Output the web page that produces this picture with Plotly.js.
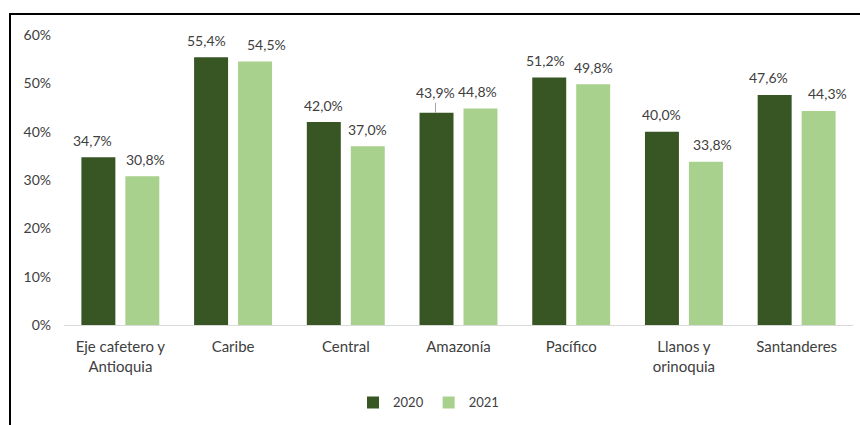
<!DOCTYPE html>
<html><head><meta charset="utf-8">
<script src="https://cdn.plot.ly/plotly-3.0.1.min.js"></script>
<style>
body{margin:0;background:#fff;}
#frame{position:absolute;left:9px;top:13px;width:860px;height:420px;border-top:2px solid #000;border-left:2px solid #000;}
#chart{position:absolute;left:0;top:0;width:860px;height:425px;}
</style></head>
<body>
<div id="frame"></div>
<div id="chart"></div>
<script>
const categories = ["Eje cafetero y<br>Antioquia", "Caribe", "Central", "Amazonía", "Pacífico", "Llanos y<br>orinoquia", "Santanderes"];
const values2020 = [0.347, 0.554, 0.420, 0.439, 0.512, 0.400, 0.476];
const values2021 = [0.308, 0.545, 0.370, 0.448, 0.498, 0.338, 0.443];
const seriesNames = ["2020", "2021"];
const yTicks = [0, 0.1, 0.2, 0.3, 0.4, 0.5, 0.6];

const dark = "#375623", light = "#A9D18E";
const fmt = v => (v*100).toFixed(1).replace(".", ",") + "%";
const fontFam = "Lato, 'Open Sans', sans-serif";

const shift2020 = [-6, -5, 0, -1, -4, 0, -6];
const shift2021 = [3, 11, 0, -3, 0, 7, 9];

const annotations = [];
categories.forEach((c, i) => {
  const lead = (i === 3);
  annotations.push({
    x: c, y: values2020[i], xref: "x", yref: "y",
    text: fmt(values2020[i]), showarrow: lead,
    ax: 0, ay: -20, arrowhead: 0, arrowwidth: 1, arrowcolor: "#a6a6a6", standoff: 0,
    xshift: -22 + shift2020[i], yshift: lead ? 0 : 17, yanchor: "middle",
    font: {family: fontFam, size: 14, color: "#404040"}
  });
  annotations.push({
    x: c, y: values2021[i], xref: "x", yref: "y",
    text: fmt(values2021[i]), showarrow: false,
    xshift: 22 + shift2021[i], yshift: 17, yanchor: "middle",
    font: {family: fontFam, size: 14, color: "#404040"}
  });
});

const data = [
  {type: "bar", x: categories, y: values2020, name: seriesNames[0], marker: {color: dark}, hoverinfo: "none"},
  {type: "bar", x: categories, y: values2021, name: seriesNames[1], marker: {color: light}, hoverinfo: "none"}
];

const layout = {
  width: 860, height: 425,
  margin: {l: 64, r: 7, t: 35, b: 97},
  paper_bgcolor: "rgba(0,0,0,0)", plot_bgcolor: "rgba(0,0,0,0)",
  barmode: "group", bargap: 0.22, bargroupgap: 0.227,
  font: {family: fontFam, size: 14, color: "#404040"},
  xaxis: {type: "category", showline: true, linecolor: "#d9d9d9", linewidth: 1,
          ticks: "", ticklabelstandoff: 8, tickfont: {family: fontFam, size: 15, color: "#404040"}, fixedrange: true},
  yaxis: {range: [0, 0.6], tickvals: yTicks, tickformat: ".0%", showgrid: false, zeroline: false,
          showline: false, ticks: "", ticklabelstandoff: 12, tickfont: {family: fontFam, size: 14, color: "#404040"}, fixedrange: true},
  legend: {orientation: "h", x: 0.462, xanchor: "center", y: -0.267, yanchor: "middle",
           font: {family: fontFam, size: 13, color: "#404040"}, itemwidth: 30, traceorder: "normal"},
  annotations: annotations,
  showlegend: true
};

Plotly.newPlot("chart", data, layout, {displayModeBar: false, staticPlot: true});
</script>
</body></html>
